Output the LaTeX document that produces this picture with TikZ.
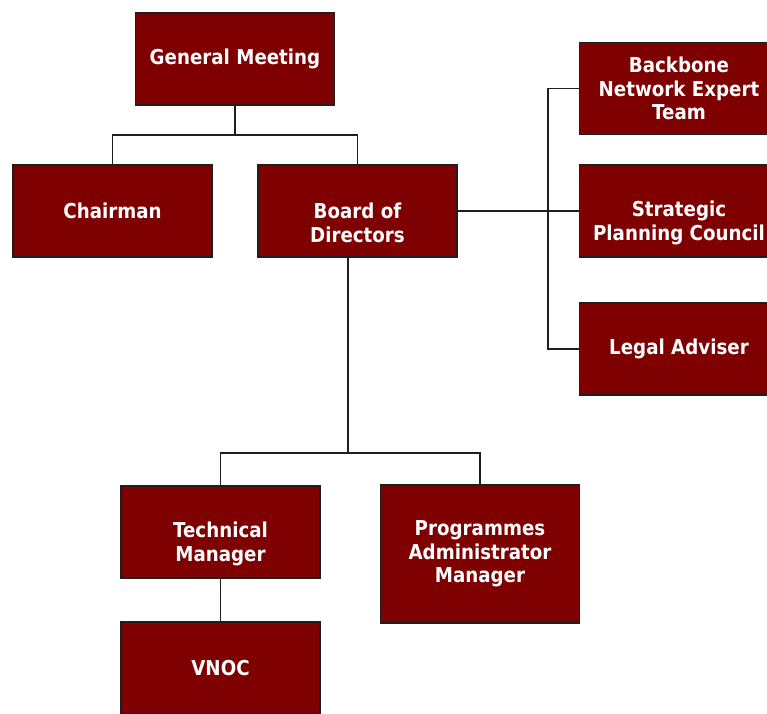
\documentclass[tikz,border=0pt]{standalone}
\usepackage{fontspec}
\setmainfont{DejaVu Sans}[FakeStretch=0.89]
\usetikzlibrary{positioning}
\definecolor{unitred}{HTML}{7F0000}
\definecolor{linegray}{HTML}{1E1E1E}
\newcommand{\lowfirst}{\rule{0pt}{39pt}}

\begin{document}
\begin{tikzpicture}[x=1pt,y=-1pt,
  unit/.style={draw=linegray,line width=1.5pt,fill=unitred,text=white,
    font=\bfseries\fontsize{20.5}{23.5}\selectfont,align=center,
    minimum width=199pt,minimum height=92pt,inner sep=0pt},
  link/.style={draw=linegray,line width=1.5pt}]

  \useasboundingbox (0,0) rectangle (767,713);

  \node[unit] (gm) at (235,59) {General Meeting};
  \node[unit] (chair) at (112.5,211) {Chairman};
  \node[unit] (board) at (357.5,211) {\lowfirst Board of\\Directors};
  \node[unit] (expert) at (679,88.5) {Backbone\\Network Expert\\Team};
  \node[unit] (plan) at (679,211) {\lowfirst Strategic\\Planning Council};
  \node[unit] (legal) at (679,349) {Legal Adviser};
  \node[unit] (tech) at (220.5,532) {\lowfirst Technical\\Manager};
  \node[unit,minimum height=138pt] (prog) at (480,554) {Programmes\\Administrator\\Manager};
  \node[unit] (vnoc) at (220.5,668) {VNOC};

  \coordinate (j0) at (235,135);
  \coordinate (j1) at (548,211);
  \coordinate (j2) at (348,453);

  \path[link] (gm.south) -- (j0);
  \path[link] (chair.north) |- (j0) -| (board.north);
  \path[link] (board.east) -- (plan.west);
  \path[link] (expert.west) -| (j1) |- (legal.west);
  \path[link] (board.south -| j2) -- (j2);
  \path[link] (tech.north) |- (j2) -| (prog.north);
  \path[link] (tech.south) -- (vnoc.north);

\end{tikzpicture}
\end{document}
